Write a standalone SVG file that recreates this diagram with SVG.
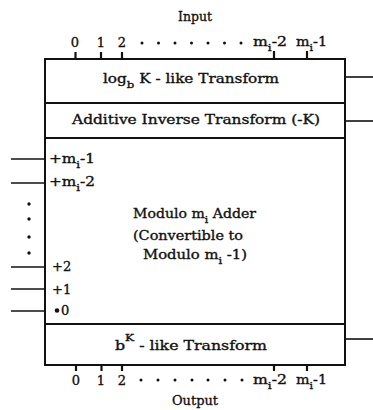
<svg xmlns="http://www.w3.org/2000/svg" width="373" height="410" viewBox="0 0 373 410">
  <style>
    .box { fill: #fff; stroke: #111; stroke-width: 2; }
    .ln { stroke: #111; stroke-width: 1.6; fill: none; }
    .tick { stroke: #111; stroke-width: 2.2; }
    .t { font-family: "DejaVu Serif", "Liberation Serif", serif; font-size: 13px; fill: #111; stroke: #111; stroke-width: 0.35; }
    .sub { font-size: 10px; }
    .dot { fill: #111; }
  </style>
  <rect width="373" height="410" fill="#fff"/>

  <!-- input header -->
  <g id="input">
    <text class="t" x="178" y="21" textLength="34" lengthAdjust="spacingAndGlyphs">Input</text>
    <text class="t" x="75" y="47" text-anchor="middle">0</text>
    <text class="t" x="101" y="47" text-anchor="middle">1</text>
    <text class="t" x="122" y="47" text-anchor="middle">2</text>
    <g class="dot">
      <circle cx="142" cy="43" r="1.5"/><circle cx="158.5" cy="43" r="1.5"/><circle cx="175" cy="43" r="1.5"/>
      <circle cx="191.5" cy="43" r="1.5"/><circle cx="208" cy="43" r="1.5"/><circle cx="224.5" cy="43" r="1.5"/>
      <circle cx="241" cy="43" r="1.5"/>
    </g>
    <text class="t" x="253" y="46" textLength="34" lengthAdjust="spacingAndGlyphs">m<tspan class="sub" dy="5">i</tspan><tspan dy="-5">-2</tspan></text>
    <text class="t" x="296" y="46" textLength="31" lengthAdjust="spacingAndGlyphs">m<tspan class="sub" dy="5">i</tspan><tspan dy="-5">-1</tspan></text>
  </g>

  <!-- transform stack -->
  <g id="log-transform">
    <rect class="box" x="45" y="59" width="300" height="44"/>
    <text class="t" x="103" y="83" textLength="176" lengthAdjust="spacingAndGlyphs">log<tspan class="sub" dy="5">b</tspan><tspan dy="-5"> K - like Transform</tspan></text>
  </g>
  <g id="inverse-transform">
    <rect class="box" x="45" y="103" width="300" height="35"/>
    <text class="t" x="72" y="124" textLength="248" lengthAdjust="spacingAndGlyphs">Additive  Inverse Transform (-K)</text>
  </g>
  <g id="adder">
    <rect class="box" x="45" y="138" width="300" height="186"/>
    <text class="t" x="133" y="218" textLength="123" lengthAdjust="spacingAndGlyphs">Modulo m<tspan class="sub" dy="5">i</tspan><tspan dy="-5"> Adder</tspan></text>
    <text class="t" x="133" y="240" textLength="110" lengthAdjust="spacingAndGlyphs">(Convertible to</text>
    <text class="t" x="143" y="259" textLength="104" lengthAdjust="spacingAndGlyphs">Modulo m<tspan class="sub" dy="5">i</tspan><tspan dy="-5"> -1)</tspan></text>
    <text class="t" x="49" y="163" textLength="46" lengthAdjust="spacingAndGlyphs">+m<tspan class="sub" dy="5">i</tspan><tspan dy="-5">-1</tspan></text>
    <text class="t" x="49" y="186" textLength="46" lengthAdjust="spacingAndGlyphs">+m<tspan class="sub" dy="5">i</tspan><tspan dy="-5">-2</tspan></text>
    <text class="t" x="52" y="271">+<tspan x="63">2</tspan></text>
    <text class="t" x="52" y="294">+<tspan x="63">1</tspan></text>
    <circle class="dot" cx="57" cy="310.5" r="2.3"/>
    <text class="t" x="61" y="315">0</text>
  </g>
  <g id="exp-transform">
    <rect class="box" x="45" y="324" width="300" height="41"/>
    <text class="t" x="115" y="350" textLength="152" lengthAdjust="spacingAndGlyphs">b<tspan class="sub" dy="-9">K</tspan><tspan dy="9"> - like Transform</tspan></text>
  </g>

  <!-- output footer -->
  <g id="output">
    <text class="t" x="76" y="385" text-anchor="middle">0</text>
    <text class="t" x="101" y="385" text-anchor="middle">1</text>
    <text class="t" x="122" y="385" text-anchor="middle">2</text>
    <g class="dot">
      <circle cx="141" cy="380" r="1.5"/><circle cx="158" cy="380" r="1.5"/><circle cx="175" cy="380" r="1.5"/>
      <circle cx="192" cy="380" r="1.5"/><circle cx="208" cy="380" r="1.5"/><circle cx="225" cy="380" r="1.5"/>
      <circle cx="242" cy="380" r="1.5"/>
    </g>
    <text class="t" x="253" y="384" textLength="34" lengthAdjust="spacingAndGlyphs">m<tspan class="sub" dy="5">i</tspan><tspan dy="-5">-2</tspan></text>
    <text class="t" x="296" y="384" textLength="31" lengthAdjust="spacingAndGlyphs">m<tspan class="sub" dy="5">i</tspan><tspan dy="-5">-1</tspan></text>
    <text class="t" x="172" y="405" textLength="46" lengthAdjust="spacingAndGlyphs">Output</text>
  </g>

  <!-- connectors: terminal ticks and side lines -->
  <g id="connectors">
    <g class="tick">
      <line x1="75.5" y1="52" x2="75.5" y2="59"/><line x1="101" y1="52" x2="101" y2="59"/>
      <line x1="122" y1="52" x2="122" y2="59"/><line x1="274" y1="51" x2="274" y2="59"/>
      <line x1="307" y1="51" x2="307" y2="59"/>
      <line x1="76" y1="365" x2="76" y2="371"/><line x1="101.5" y1="365" x2="101.5" y2="371"/>
      <line x1="122" y1="365" x2="122" y2="371"/><line x1="274" y1="365" x2="274" y2="371"/>
      <line x1="307" y1="365" x2="307" y2="371"/>
    </g>
    <g class="ln">
      <line x1="345" y1="77" x2="373" y2="77"/>
      <line x1="345" y1="121" x2="373" y2="121"/>
      <line x1="345" y1="339" x2="373" y2="339"/>
      <line x1="11" y1="159" x2="45" y2="159"/>
      <line x1="11" y1="183" x2="45" y2="183"/>
      <line x1="11" y1="267" x2="45" y2="267"/>
      <line x1="11" y1="289" x2="45" y2="289"/>
      <line x1="11" y1="311" x2="45" y2="311"/>
    </g>
    <g class="dot">
      <circle cx="29" cy="204" r="1.7"/><circle cx="29" cy="219" r="1.7"/>
      <circle cx="29" cy="237" r="1.7"/><circle cx="29" cy="253" r="1.7"/>
    </g>
  </g>
</svg>
